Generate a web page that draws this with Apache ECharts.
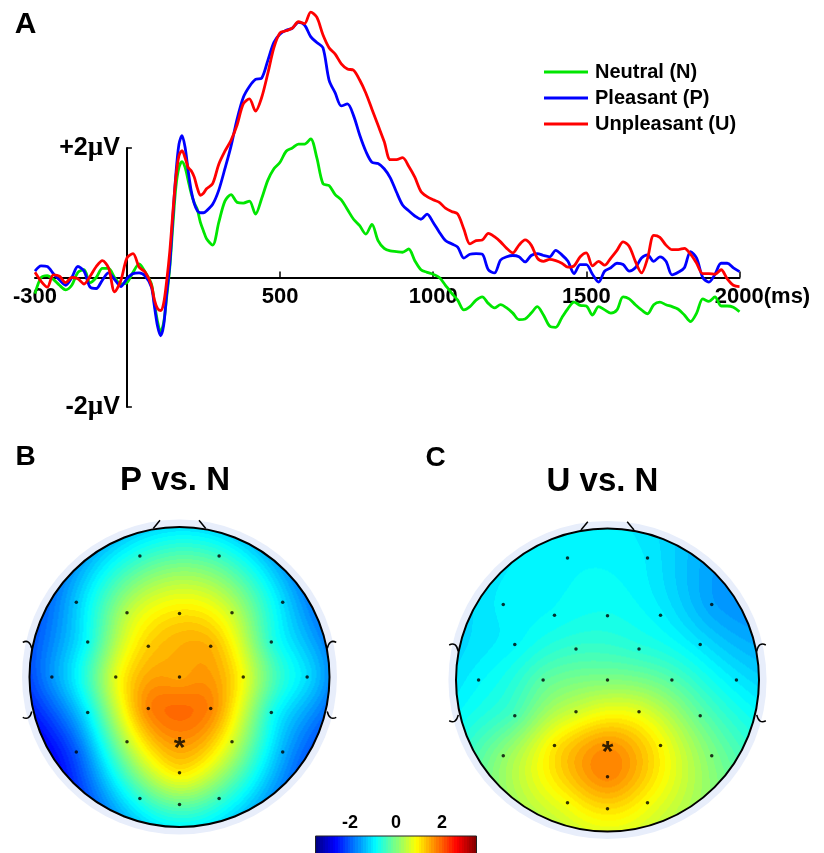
<!DOCTYPE html>
<html>
<head>
<meta charset="utf-8">
<script src="https://cdn.jsdelivr.net/npm/echarts@6/dist/echarts.min.js"></script>
<style>
html, body { margin: 0; padding: 0; background: #fff; }
#main { width: 824px; height: 853px; }
</style>
</head>
<body>
<div id="main"></div>
<script>
// ERP waveforms (ms, µV)
const times = [-300, -280, -260, -240, -220, -200, -180, -160, -140, -120, -100, -80, -60, -40, -20, 0, 20, 40, 60, 80,
    90, 100, 110, 120, 130, 140, 150, 160, 170, 180, 190, 200, 210, 220, 230, 240, 250, 260,
    280, 300, 320, 340, 360, 380, 400, 420, 440, 460, 480, 500, 520, 540, 560, 580, 600, 620, 640, 660, 680, 700,
    720, 740, 760, 780, 800, 820, 840, 860, 880, 900, 920, 940, 960, 980, 1000, 1020, 1040, 1060, 1080, 1100,
    1120, 1140, 1160, 1180, 1200, 1220, 1240, 1260, 1280, 1300, 1320, 1340, 1360, 1380, 1400, 1420, 1440, 1460, 1480, 1500,
    1520, 1540, 1560, 1580, 1600, 1620, 1640, 1660, 1680, 1700, 1720, 1740, 1760, 1780, 1800, 1820, 1840, 1860, 1880, 1900,
    1920, 1940, 1960, 1980, 2000]
const neutral = [-0.25, 0.0, 0.03, -0.03, -0.12, -0.19, -0.12, 0.08, 0.12, -0.08, 0.0, 0.14, 0.14, 0.0, -0.1, -0.08, 0.08, 0.21, 0.08, -0.1,
    -0.4, -0.68, -0.84, -0.7, -0.3, 0.15, 0.8, 1.4, 1.7, 1.79, 1.7, 1.5, 1.3, 1.15, 1.05, 0.85, 0.72, 0.6,
    0.5, 0.85, 1.18, 1.28, 1.16, 1.15, 1.18, 0.98, 1.22, 1.5, 1.68, 1.78, 1.95, 2.0, 2.06, 2.06, 2.14, 1.85, 1.45, 1.42, 1.28, 1.2,
    1.05, 0.9, 0.8, 0.67, 0.82, 0.57, 0.45, 0.41, 0.4, 0.39, 0.44, 0.26, 0.12, 0.08, 0.05, 0.0, -0.12, -0.24, -0.35, -0.5,
    -0.45, -0.35, -0.3, -0.4, -0.47, -0.42, -0.47, -0.55, -0.65, -0.64, -0.55, -0.45, -0.58, -0.75, -0.77, -0.62, -0.48, -0.38, -0.43, -0.44,
    -0.58, -0.45, -0.5, -0.55, -0.5, -0.3, -0.33, -0.42, -0.5, -0.56, -0.42, -0.38, -0.42, -0.45, -0.49, -0.58, -0.68, -0.55, -0.33, -0.37,
    -0.3, -0.44, -0.44, -0.46, -0.53]
const pleasant = [0.1, 0.18, 0.17, 0.06, -0.04, -0.12, 0.0, 0.17, 0.1, -0.15, -0.17, -0.04, 0.07, -0.03, -0.14, -0.02, 0.06, 0.07, 0.02, -0.15,
    -0.45, -0.75, -0.9, -0.74, -0.25, 0.2, 0.93, 1.6, 2.06, 2.19, 2.01, 1.65, 1.34, 1.14, 1.03, 1.0, 1.0, 1.03,
    1.13, 1.35, 1.68, 2.03, 2.45, 2.78, 2.95, 3.06, 3.08, 3.35, 3.63, 3.76, 3.82, 3.85, 3.94, 3.9, 3.72, 3.63, 3.55, 3.05, 2.85, 2.65,
    2.68, 2.5, 2.2, 1.95, 1.78, 1.76, 1.68, 1.54, 1.32, 1.12, 1.03, 0.95, 0.9, 0.98, 0.85, 0.7, 0.57, 0.52, 0.47, 0.3,
    0.36, 0.37, 0.36, 0.12, 0.07, 0.27, 0.32, 0.34, 0.32, 0.24, 0.34, 0.37, 0.34, 0.32, 0.42, 0.35, 0.25, 0.06, 0.2, 0.2,
    0.05, -0.07, 0.1, 0.15, 0.22, 0.2, 0.1, 0.15, 0.3, 0.35, 0.25, 0.32, 0.25, 0.04, 0.08, 0.15, 0.4, 0.3, 0.0, -0.07,
    0.05, 0.22, 0.22, 0.15, 0.09]
const unpleasant = [0.08, -0.06, -0.15, 0.04, 0.02, -0.08, 0.0, -0.02, -0.1, 0.02, 0.17, 0.26, 0.15, -0.22, -0.05, 0.3, 0.37, 0.16, 0.08, -0.12,
    -0.35, -0.48, -0.51, -0.4, -0.05, 0.4, 1.0, 1.55, 1.88, 1.96, 1.85, 1.7, 1.65, 1.55, 1.38, 1.27, 1.3, 1.37,
    1.45, 1.75, 1.95, 2.12, 2.36, 2.68, 2.76, 2.57, 2.78, 3.15, 3.55, 3.78, 3.81, 3.85, 3.95, 3.92, 4.1, 4.02, 3.75, 3.55, 3.45, 3.3,
    3.22, 3.2, 3.05, 2.85, 2.6, 2.35, 2.1, 1.82, 1.82, 1.85, 1.72, 1.55, 1.33, 1.25, 1.2, 1.16, 1.07, 1.02, 0.98, 0.75,
    0.52, 0.57, 0.58, 0.68, 0.63, 0.55, 0.45, 0.38, 0.5, 0.58, 0.5, 0.3, 0.25, 0.28, 0.26, 0.22, 0.16, 0.18, 0.32, 0.38,
    0.18, 0.25, 0.19, 0.3, 0.42, 0.55, 0.48, 0.25, 0.07, 0.3, 0.65, 0.62, 0.5, 0.43, 0.43, 0.45, 0.36, 0.22, 0.06, 0.06,
    0.05, 0.12, -0.02, -0.12, -0.14]
const xRange = [-300, 2000]
const yRange = [-2, 2]
const xLabelValues = [-300, 500, 1000, 1500, 2000]
const xTickValues = [500, 1000, 1500, 2000]
const yTickValues = [-2, 2]

// electrode layout (head radius = 1) and difference values (µV)
const elecNames = ['Fp1', 'Fp2', 'F7', 'F3', 'Fz', 'F4', 'F8', 'FC5', 'FC1', 'FC2', 'FC6', 'T7', 'C3', 'Cz', 'C4', 'T8',
    'CP5', 'CP1', 'CP2', 'CP6', 'P7', 'P3', 'Pz', 'P4', 'P8', 'POz', 'O1', 'O2', 'Oz']
const elecX = [-0.264, 0.264, -0.688, -0.35, 0, 0.35, 0.688, -0.612, -0.208, 0.208, 0.612, -0.851, -0.425, 0, 0.425, 0.851,
    -0.612, -0.208, 0.208, 0.612, -0.688, -0.35, 0, 0.35, 0.688, 0, -0.264, 0.264, 0]
const elecY = [0.806, 0.806, 0.499, 0.428, 0.424, 0.428, 0.499, 0.234, 0.205, 0.205, 0.234, 0, 0, 0, 0, 0,
    -0.236, -0.21, -0.21, -0.236, -0.5, -0.432, -0.432, -0.432, -0.5, -0.638, -0.81, -0.81, -0.85]
const pVsN = [-0.6, -0.5, -1.25, 0.4, 1.05, 0.5, -1.1, -0.8, 1.2, 1.4, -0.6, -1.6, 0.7, 1.5, 0.8, -1.1,
    -0.95, 1.7, 1.7, -0.7, -2.0, 0.4, 1.6, 0.6, -1.4, 1.0, -0.6, -0.45, -0.2]
const uVsN = [-0.9, -1.0, -0.95, -0.85, -0.75, -0.95, -1.5, -0.9, -0.5, -0.6, -1.05, -0.9, -0.25, 0.0, -0.3, -1.0,
    -0.35, 0.55, 0.7, -0.2, 0.1, 1.0, 1.6, 0.9, 0.0, 1.7, 0.85, 0.85, 1.1]
const starElectrode = 'Pz'
const colorRange = [-3.5, 3.5]
const colorTicks = [-2, 0, 2]

const FONT = "'Liberation Sans', Arial, Helvetica, sans-serif"

// ERP panel box (px)
const erpGrid = { left: 35, right: 84.5, top: 148, bottom: 446 }
const erpWidth = 824 - erpGrid.left - erpGrid.right
const erpHeight = 853 - erpGrid.top - erpGrid.bottom
// axes cross at 0 ms / 0 µV
const yAxisShift = -erpWidth * (0 - xRange[0]) / (xRange[1] - xRange[0])
const xAxisShift = -erpHeight * (0 - yRange[0]) / (yRange[1] - yRange[0])

// matlab style jet, 64 levels
function jet(v) {
    let u = (v - colorRange[0]) / (colorRange[1] - colorRange[0])
    u = Math.min(1, Math.max(0, u))
    u = (Math.floor(u * 63.999) + 0.5) / 64
    const f = x => Math.round(255 * Math.min(1, Math.max(0, x)))
    return [f(1.5 - Math.abs(4 * u - 3)), f(1.5 - Math.abs(4 * u - 2)), f(1.5 - Math.abs(4 * u - 1))]
}

// biharmonic spline (as used for scalp maps)
function green(d2) {
    return d2 === 0 ? 0 : d2 * (0.5 * Math.log(d2) - 1)
}
function splineWeights(vals) {
    const n = elecX.length
    const A = []
    for (let i = 0; i < n; i++) {
        const row = []
        for (let j = 0; j < n; j++) {
            const dx = elecX[i] - elecX[j], dy = elecY[i] - elecY[j]
            row.push(green(dx * dx + dy * dy))
        }
        row.push(vals[i])
        A.push(row)
    }
    for (let c = 0; c < n; c++) {
        let p = c
        for (let r = c + 1; r < n; r++) if (Math.abs(A[r][c]) > Math.abs(A[p][c])) p = r
        const tmp = A[c]; A[c] = A[p]; A[p] = tmp
        for (let r = c + 1; r < n; r++) {
            const k = A[r][c] / A[c][c]
            for (let q = c; q <= n; q++) A[r][q] -= k * A[c][q]
        }
    }
    const w = new Array(n).fill(0)
    for (let r = n - 1; r >= 0; r--) {
        let s = A[r][n]
        for (let q = r + 1; q < n; q++) s -= A[r][q] * w[q]
        w[r] = s / A[r][r]
    }
    return w
}
function fieldCanvas(vals, size) {
    const w = splineWeights(vals)
    const cv = document.createElement('canvas')
    cv.width = size
    cv.height = size
    const ctx = cv.getContext('2d')
    const img = ctx.createImageData(size, size)
    for (let py = 0; py < size; py++) {
        for (let px = 0; px < size; px++) {
            const x = (px + 0.5) / size * 2 - 1
            const y = 1 - (py + 0.5) / size * 2
            if (x * x + y * y > 1) continue
            let v = 0
            for (let j = 0; j < w.length; j++) {
                const dx = x - elecX[j], dy = y - elecY[j]
                v += w[j] * green(dx * dx + dy * dy)
            }
            const c = jet(v)
            const k = (py * size + px) * 4
            img.data[k] = c[0]
            img.data[k + 1] = c[1]
            img.data[k + 2] = c[2]
            img.data[k + 3] = 255
        }
    }
    ctx.putImageData(img, 0, 0)
    return cv
}

function headRenderer(vals) {
    let cache = null
    return function (params, api) {
        const c = api.coord([0, 0])
        const r = api.coord([1, 0])[0] - c[0]
        const size = Math.round(2 * r)
        if (!cache || cache.width !== size) cache = fieldCanvas(vals, size)
        const P = (x, y) => api.coord([x, y])
        const line = (a, b) => ({
            type: 'line',
            shape: { x1: a[0], y1: a[1], x2: b[0], y2: b[1] },
            style: { stroke: '#000', lineWidth: 1.5 }
        })
        const hook = (a, m, b) => ({
            type: 'bezierCurve',
            shape: { x1: a[0], y1: a[1], cpx1: m[0], cpy1: m[1], x2: b[0], y2: b[1] },
            style: { stroke: '#000', lineWidth: 1.5, fill: 'none' }
        })
        return {
            type: 'group',
            children: [
                { type: 'circle', shape: { cx: c[0], cy: c[1], r: r * 1.05 }, style: { fill: '#e8eefb' } },
                line(P(-0.175, 0.99), P(-0.13, 1.045)),
                line(P(0.13, 1.045), P(0.175, 0.99)),
                hook(P(-1.045, 0.231), P(-1.0, 0.255), P(-0.985, 0.19)),
                hook(P(-1.045, -0.269), P(-1.0, -0.293), P(-0.985, -0.23)),
                hook(P(1.045, 0.231), P(1.0, 0.255), P(0.985, 0.19)),
                hook(P(1.045, -0.269), P(1.0, -0.293), P(0.985, -0.23)),
                { type: 'image', style: { image: cache, x: c[0] - r, y: c[1] - r, width: 2 * r, height: 2 * r } },
                { type: 'circle', shape: { cx: c[0], cy: c[1], r: r }, style: { fill: 'none', stroke: '#000', lineWidth: 2 } }
            ]
        }
    }
}

function colorbarRender(params, api) {
    const a = api.coord([colorRange[0], 1])
    const b = api.coord([colorRange[1], 0])
    const stops = []
    for (let i = 0; i < 64; i++) {
        const v = colorRange[0] + (i + 0.5) / 64 * (colorRange[1] - colorRange[0])
        const col = 'rgb(' + jet(v).join(',') + ')'
        stops.push({ offset: i / 64, color: col }, { offset: (i + 1) / 64, color: col })
    }
    return {
        type: 'rect',
        shape: { x: a[0], y: a[1], width: b[0] - a[0], height: b[1] - a[1] },
        style: { fill: new echarts.graphic.LinearGradient(0, 0, 1, 0, stops), stroke: '#222', lineWidth: 1 }
    }
}

const starIdx = elecNames.indexOf(starElectrode)
const dots = elecX.map((x, i) => [x, elecY[i]]).filter((d, i) => i !== starIdx)
const star = [[elecX[starIdx], elecY[starIdx]]]

function wave(name, values, color) {
    return {
        name: name,
        type: 'line',
        xAxisIndex: 0,
        yAxisIndex: 0,
        data: times.map((t, i) => [t, values[i]]),
        symbol: 'none',
        smooth: 0.3,
        clip: false,
        lineStyle: { width: 2.8, color: color },
        itemStyle: { color: color }
    }
}

function mapSeries(idx, vals) {
    return [
        {
            type: 'custom',
            coordinateSystem: 'cartesian2d',
            xAxisIndex: idx,
            yAxisIndex: idx,
            data: [[0, 0]],
            renderItem: headRenderer(vals),
            silent: true
        },
        {
            type: 'scatter',
            xAxisIndex: idx,
            yAxisIndex: idx,
            data: dots,
            symbolSize: 3.5,
            itemStyle: { color: '#000' },
            silent: true
        },
        {
            type: 'scatter',
            xAxisIndex: idx,
            yAxisIndex: idx,
            data: star,
            symbolSize: 1,
            itemStyle: { color: 'rgba(0,0,0,0)' },
            label: {
                show: true,
                position: 'inside',
                formatter: '*',
                fontSize: 30,
                fontWeight: 'bold',
                fontFamily: FONT,
                color: '#000',
                offset: [0, 7]
            },
            silent: true
        }
    ]
}

const hiddenAxis = (idx) => ({ gridIndex: idx, type: 'value', min: -1, max: 1, show: false })

const labelText = (size) => ({ fontSize: size, fontWeight: 'bold', fontFamily: FONT, color: '#000' })

const chart = echarts.init(document.getElementById('main'))
chart.setOption({
    animation: false,
    backgroundColor: '#fff',
    textStyle: { fontFamily: FONT },
    grid: [
        Object.assign({ outerBoundsMode: 'none' }, erpGrid),
        { left: 29.5, top: 527, width: 300, height: 300, outerBoundsMode: 'none' },
        { left: 456, top: 528.5, width: 303, height: 303, outerBoundsMode: 'none' },
        { left: 315.5, top: 836, width: 161, height: 20, outerBoundsMode: 'none' }
    ],
    legend: {
        orient: 'vertical',
        left: 539,
        top: 57,
        icon: 'rect',
        itemWidth: 44,
        itemHeight: 3,
        itemGap: 6,
        textStyle: Object.assign(labelText(20), { lineHeight: 20, padding: [0, 0, 0, 2] }),
        data: ['Neutral (N)', 'Pleasant (P)', 'Unpleasant (U)']
    },
    xAxis: [
        {
            gridIndex: 0,
            type: 'value',
            min: xRange[0],
            max: xRange[1],
            position: 'bottom',
            offset: xAxisShift,
            axisLine: { onZero: false, lineStyle: { color: '#000', width: 2 } },
            axisTick: { customValues: xTickValues, inside: true, length: 6, lineStyle: { color: '#000', width: 1.5 } },
            axisLabel: Object.assign(labelText(22), {
                customValues: xLabelValues,
                margin: 8,
                formatter: v => v === 2000 ? '{pad|}2000{ms|(ms)}' : String(v),
                rich: {
                    pad: { width: 46 },
                    ms: labelText(22)
                }
            }),
            splitLine: { show: false }
        },
        hiddenAxis(1),
        hiddenAxis(2),
        {
            gridIndex: 3,
            type: 'value',
            position: 'top',
            min: colorRange[0],
            max: colorRange[1],
            z: 10,
            axisLine: { show: false },
            axisTick: { customValues: colorTicks, inside: true, length: 3, lineStyle: { color: '#333', width: 1 } },
            axisLabel: Object.assign(labelText(18), { customValues: colorTicks, margin: 4 }),
            splitLine: { show: false }
        }
    ],
    yAxis: [
        {
            gridIndex: 0,
            type: 'value',
            min: yRange[0],
            max: yRange[1],
            position: 'left',
            offset: yAxisShift,
            axisLine: { onZero: false, lineStyle: { color: '#000', width: 2 } },
            axisTick: { customValues: yTickValues, inside: true, length: 5, lineStyle: { color: '#000', width: 1.5 } },
            axisLabel: Object.assign(labelText(25), {
                customValues: yTickValues,
                margin: 7,
                formatter: v => (v > 0 ? '+' : '') + v + '{mu|\u00b5}V',
                rich: {
                    mu: { fontSize: 27, fontFamily: "'Liberation Serif', 'DejaVu Serif', serif", color: '#000' }
                }
            }),
            splitLine: { show: false }
        },
        hiddenAxis(1),
        hiddenAxis(2),
        { gridIndex: 3, type: 'value', min: 0, max: 1, show: false }
    ],
    graphic: [
        { type: 'text', x: 25.5, y: 25, style: { text: 'A', font: 'bold 30px ' + FONT, fill: '#000', textAlign: 'center', textVerticalAlign: 'middle', align: 'center', verticalAlign: 'middle' } },
        { type: 'text', x: 25.5, y: 457.5, style: { text: 'B', font: 'bold 28px ' + FONT, fill: '#000', textAlign: 'center', textVerticalAlign: 'middle', align: 'center', verticalAlign: 'middle' } },
        { type: 'text', x: 435.5, y: 458, style: { text: 'C', font: 'bold 28px ' + FONT, fill: '#000', textAlign: 'center', textVerticalAlign: 'middle', align: 'center', verticalAlign: 'middle' } },
        { type: 'text', x: 175, y: 481, style: { text: 'P vs. N', font: 'bold 33px ' + FONT, fill: '#000', textAlign: 'center', textVerticalAlign: 'middle', align: 'center', verticalAlign: 'middle' } },
        { type: 'text', x: 602.5, y: 481.5, style: { text: 'U vs. N', font: 'bold 33px ' + FONT, fill: '#000', textAlign: 'center', textVerticalAlign: 'middle', align: 'center', verticalAlign: 'middle' } }
    ],
    series: [
        wave('Neutral (N)', neutral, '#00e600'),
        wave('Pleasant (P)', pleasant, '#0000ff'),
        wave('Unpleasant (U)', unpleasant, '#ff0000'),
        ...mapSeries(1, pVsN),
        ...mapSeries(2, uVsN),
        {
            type: 'custom',
            coordinateSystem: 'cartesian2d',
            xAxisIndex: 3,
            yAxisIndex: 3,
            data: [[0, 0]],
            renderItem: colorbarRender,
            silent: true
        }
    ]
})
</script>
</body>
</html>
